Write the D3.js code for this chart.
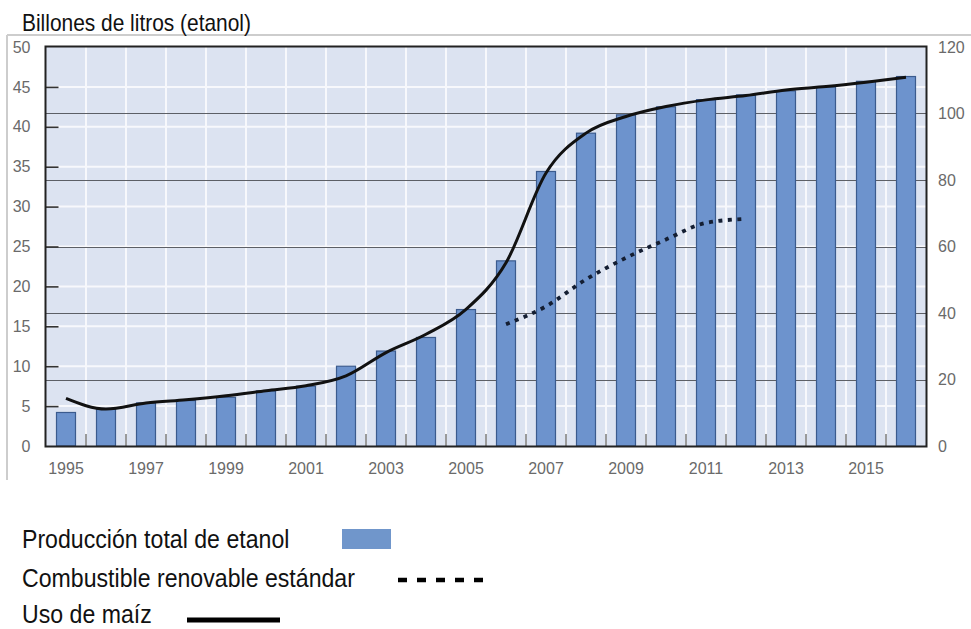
<!DOCTYPE html>
<html><head><meta charset="utf-8">
<script src="https://cdn.jsdelivr.net/npm/d3@7"></script>
<style>
html,body{margin:0;padding:0;background:#fff;}
svg{display:block;font-family:"Liberation Sans",Arial,sans-serif;}
</style></head>
<body>
<svg id="chart" width="971" height="629"></svg>
<script>
// ---- data ----
const years = d3.range(1995, 2017);
const tickYears = [1995,1997,1999,2001,2003,2005,2007,2009,2011,2013,2015];
const produccion = [4.2,4.6,5.4,5.7,6.1,6.9,7.5,10.0,11.9,13.6,17.1,23.2,34.4,39.2,41.5,42.5,43.4,44.0,44.5,45.0,45.7,46.3];
const usoMaiz = [14.3,11.1,12.9,13.9,15.1,16.6,18.1,21.1,28.1,33.6,41.1,55.1,82.1,94.1,99.1,102.1,104.1,105.4,107.1,108.1,109.4,110.9];
const rfsYears = [2006,2007,2008,2009,2010,2011,2012];
const rfs = [36.6,42.0,50.1,56.6,62.1,67.1,68.3];
const leftTicks = [0,5,10,15,20,25,30,35,40,45,50];
const rightTicks = [0,20,40,60,80,100,120];
const title = "Billones de litros (etanol)";
const legendLabels = ["Producción total de etanol","Combustible renovable estándar","Uso de maíz"];

// ---- layout ----
const L = 46, R = 926, T = 47, B = 446;
const svg = d3.select("#chart");
const x = d3.scaleBand().domain(years).range([L, R]).paddingInner(0).paddingOuter(0);
const yL = d3.scaleLinear().domain([0,50]).range([B, T]);
const yR = d3.scaleLinear().domain([0,120]).range([B, T]);
const barW = 19;

// outer frame (top + left)
svg.append("line").attr("x1",7).attr("x2",971).attr("y1",35).attr("y2",35).attr("stroke","#cdcdcd").attr("stroke-width",2);
svg.append("line").attr("x1",7).attr("x2",7).attr("y1",35).attr("y2",480).attr("stroke","#cdcdcd").attr("stroke-width",2);

// title
svg.append("g").attr("transform","translate(22,31) scale(0.91,1)")
  .append("text").attr("font-size",23).attr("fill","#111").text(title);

// plot background
svg.append("rect").attr("x",L).attr("y",T).attr("width",R-L).attr("height",B-T).attr("fill","#dce3f1");

// white grid: horizontal at left ticks, vertical at year boundaries
const g = svg.append("g");
g.selectAll("line.hw").data(leftTicks.filter(d=>d>0&&d<50)).join("line")
  .attr("x1",L).attr("x2",R).attr("y1",d=>yL(d)).attr("y2",d=>yL(d))
  .attr("stroke","#f7f8fc").attr("stroke-width",2);
g.selectAll("line.vw").data(years.slice(0,-1)).join("line")
  .attr("x1",d=>x(d)+x.bandwidth()).attr("x2",d=>x(d)+x.bandwidth())
  .attr("y1",T).attr("y2",B).attr("stroke","#f7f8fc").attr("stroke-width",2);
// dark grid at right ticks
g.selectAll("line.hd").data(rightTicks.filter(d=>d>0&&d<120)).join("line")
  .attr("x1",L).attr("x2",R).attr("y1",d=>Math.round(yR(d))+0.5).attr("y2",d=>Math.round(yR(d))+0.5)
  .attr("stroke","#5c5f66").attr("stroke-width",1);

// bars
svg.append("g").selectAll("rect").data(produccion).join("rect")
  .attr("x",(d,i)=>x(years[i])+(x.bandwidth()-barW)/2)
  .attr("y",d=>yL(d)).attr("width",barW).attr("height",d=>B-yL(d))
  .attr("fill","#6d93cd").attr("stroke","#3b5b8e").attr("stroke-width",1.2);

// bottom boundary ticks
svg.append("g").selectAll("line").data(years.slice(0,-1)).join("line")
  .attr("x1",d=>x(d)+x.bandwidth()).attr("x2",d=>x(d)+x.bandwidth())
  .attr("y1",B).attr("y2",B-12).attr("stroke","#9a9a9a").attr("stroke-width",2);

// corn line
const lineR = d3.line().x(d=>x(d[0])+x.bandwidth()/2).y(d=>yR(d[1])).curve(d3.curveMonotoneX);
svg.append("path").datum(years.map((yy,i)=>[yy,usoMaiz[i]]))
  .attr("d",lineR).attr("fill","none").attr("stroke","#111").attr("stroke-width",3);
// RFS dotted
svg.append("path").datum(rfsYears.map((yy,i)=>[yy,rfs[i]]))
  .attr("d",lineR).attr("fill","none").attr("stroke","#141e32").attr("stroke-width",3.8)
  .attr("stroke-dasharray","4,5.5");

// axes
const axL = svg.append("g").attr("transform",`translate(${L-0.5},0)`)
  .call(d3.axisLeft(yL).tickValues(leftTicks).tickSizeInner(-13).tickSizeOuter(0).tickPadding(15));
axL.select(".domain").remove();
axL.selectAll(".tick line").attr("stroke","#333").attr("stroke-width",1.6)
  .attr("opacity",d=>(d===0||d===50)?0:1);
axL.selectAll("text").attr("font-size",16).attr("fill","#6a6a6a").attr("font-family","Liberation Sans, Arial, sans-serif");

const axR = svg.append("g").attr("transform",`translate(${R},0)`)
  .call(d3.axisRight(yR).tickValues(rightTicks).tickSize(0).tickPadding(12));
axR.select(".domain").remove();
axR.selectAll("text").attr("font-size",16).attr("fill","#6a6a6a").attr("font-family","Liberation Sans, Arial, sans-serif");

const axB = svg.append("g").attr("transform",`translate(0,${B})`)
  .call(d3.axisBottom(x).tickValues(tickYears).tickSize(0).tickPadding(17));
axB.select(".domain").remove();
axB.selectAll("text").attr("font-size",16).attr("fill","#6a6a6a").attr("font-family","Liberation Sans, Arial, sans-serif");

// plot border
svg.append("rect").attr("x",L-0.5).attr("y",T-0.5).attr("width",R-L+1).attr("height",B-T+1)
  .attr("fill","none").attr("stroke","#222").attr("stroke-width",2);

// legend
const legY = [548, 587, 623];
legendLabels.forEach((t,i)=>{
  svg.append("g").attr("transform",`translate(22,${legY[i]}) scale(0.925,1)`)
    .append("text").attr("font-size",25).attr("fill","#111").text(t);
});
svg.append("rect").attr("x",342).attr("y",529).attr("width",49).attr("height",20).attr("fill","#7096cb");
svg.append("line").attr("x1",398).attr("x2",484).attr("y1",580).attr("y2",580)
  .attr("stroke","#000").attr("stroke-width",4.5).attr("stroke-dasharray","9,10");
svg.append("line").attr("x1",187).attr("x2",280).attr("y1",620).attr("y2",620)
  .attr("stroke","#000").attr("stroke-width",5);
</script>
</body></html>
